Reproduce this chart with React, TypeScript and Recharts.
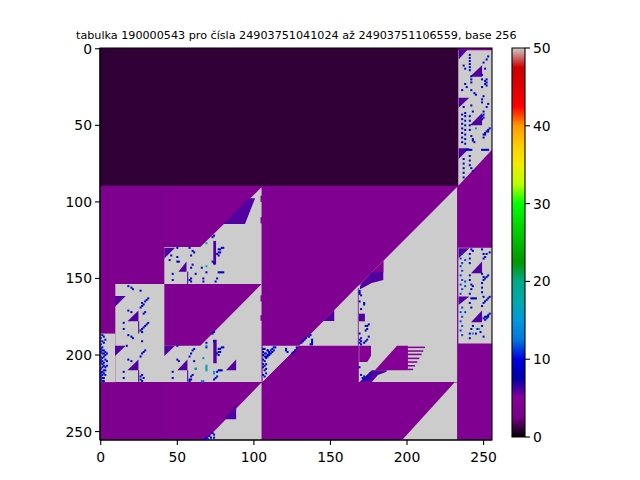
import { ComposedChart, BarChart, Area, Bar, Scatter, XAxis, YAxis, ReferenceArea } from 'recharts';

const FONT = '"DejaVu Sans", sans-serif';
const TITLE = 'tabulka 190000543 pro čísla 24903751041024 až 24903751106559, base 256';

const axisTicks = [0, 50, 100, 150, 200, 250];
const barTicks = [0, 10, 20, 30, 40, 50];

// nipy_spectral, one colour every 2.5 units from 0 to 50
const spectral = [
  '#000000', '#770088', '#880099', '#0000aa', '#0000dd', '#0077dd', '#0099dd',
  '#00aaaa', '#00aa88', '#009900', '#00bb00', '#00dd00', '#00ff00', '#bbff00',
  '#eeee00', '#ffcc00', '#ff9900', '#ff0000', '#dd0000', '#cc0000', '#cccccc',
];

function colorOf(v: number) {
  const p = Math.max(0, Math.min(19.999, v / 2.5));
  const i = Math.floor(p);
  const mix = (a: string, b: string, n: number) => {
    const c1 = parseInt(a.slice(n, n + 2), 16);
    const c2 = parseInt(b.slice(n, n + 2), 16);
    return Math.round(c1 + (c2 - c1) * (p - i));
  };
  return `rgb(${mix(spectral[i], spectral[i + 1], 1)},${mix(spectral[i], spectral[i + 1], 3)},${mix(spectral[i], spectral[i + 1], 5)})`;
}

// Filled areas of the table: each row is [column, top row, bottom row]
type Span = [number, number, number];

const PURPLE_L = 3.6;
const PURPLE = 3.8;
const DARK = 1;
const GRAY = 50;
const VIOLET = 6;
const HATCH = 4.4;

const wholeTable: Span[] = [[-0.5, -0.5, 255.5], [255.5, -0.5, 255.5]];
const leftColumns: Span[] = [[-0.5, 89.5, 255.5], [41.5, 89.5, 255.5]];
const darkBlock: Span[] = [[-0.5, -0.5, 89.5], [233.3, -0.5, 89.5]];

const grayTopRight: Span[] = [[233.5, 1, 89.5], [255.5, 1, 66]];
const grayMidRight: Span[] = [[233.5, 130, 192.5], [255.5, 130, 192.5]];
const grayUpper: Span[] = [[41.5, 129.5, 153.7], [65, 129.5, 153.7], [105, 90.5, 153.7]];
const grayLowerLeftEdge: Span[] = [[-0.5, 186, 217.7], [9.5, 186, 217.7]];
const grayLowerLeft: Span[] = [[9.5, 153.7, 217.7], [105, 153.7, 217.7]];
const grayBottomLeft: Span[] = [[68.5, 255.5, 255.5], [105, 218, 255.5]];
const grayWedge: Span[] = [[105.7, 194, 217.7], [129.5, 194, 194]];
const grayMain: Span[] = [[129.5, 194, 217.7], [168, 155, 217.7], [232.7, 90.3, 217.7]];
const grayBottomRight: Span[] = [[196.8, 255.5, 255.5], [231, 218, 255.5], [232.7, 218, 255.5]];

const purpleInLeft: Span[] = [[41.5, 153.7, 194], [65, 153.7, 194], [105, 153.7, 153.7]];
const purpleInMiddle: Span[] = [[105.7, 217.7, 217.7], [129.5, 194, 217.7], [168.3, 194, 217.7]];
const purpleWedge: Span[] = [[168, 155, 155], [184.7, 138.3, 146]];
const purpleTick1: Span[] = [[104.3, 96, 100], [105.5, 96, 100]];
const purpleTick2: Span[] = [[104.3, 110, 114], [105.5, 110, 114]];
const purpleTick3: Span[] = [[104.3, 161, 165], [105.5, 161, 165]];
const purpleTick4: Span[] = [[104.3, 174, 177.6], [105.5, 174, 177.6]];
const paleDivider: Span[] = [[167.9, 156, 217.7], [168.4, 156, 217.7]];

const hatchSquare: Span[] = [[168.8, 194, 204.5], [174, 194, 204.5], [176.5, 194, 200.5]];
const hatchBig: Span[] = [[179, 210, 210], [193.5, 194, 210], [200.6, 194, 210]];

const violetAreas: Span[][] = [
  [[80, 114.5, 114.5], [94.2, 100, 114.5], [96.5, 97.7, 108.6], [100.8, 97.7, 97.7]],
  [[41.5, 130, 137], [48.5, 130, 130]],
  [[50.7, 145.6, 145.6], [56, 139, 145.6]],
  [[73.5, 125.5, 141], [75.3, 125.5, 141]],
  [[9.3, 161.4, 168.4], [16.3, 161.4, 161.4]],
  [[17.4, 178, 178], [24.6, 171, 178]],
  [[9.3, 193.9, 200.6], [16.3, 193.9, 193.9]],
  [[17.4, 210, 210], [24.6, 203, 210]],
  [[41.5, 194, 200.6], [48.5, 194, 194]],
  [[50, 210, 210], [56.6, 203, 210]],
  [[81.8, 210, 210], [88.4, 203, 210]],
  [[73.5, 190, 205.4], [75.7, 190, 205.4]],
  [[80.7, 242, 242], [88.4, 232, 242]],
  [[145.3, 177.8, 177.8], [152.5, 170.6, 177.8]],
  [[168.5, 173, 178], [172.5, 173, 178]],
  [[169.3, 155, 157], [177, 145.8, 153], [184.5, 145.8, 151]],
  [[169, 217.7, 217.7], [177, 210, 217.7], [181, 210, 213], [186.7, 210, 211]],
  [[233.7, 0.5, 7], [239.6, 0.5, 0.5]],
  [[241, 18.2, 18.2], [249, 10.8, 18.2]],
  [[233.7, 32, 38.5], [240.7, 32, 32]],
  [[241, 50, 50], [249, 42, 50]],
  [[233.7, 65, 72], [240.7, 65, 65]],
  [[233.7, 130.3, 136.8], [240.7, 130.3, 130.3]],
  [[241.8, 146.6, 146.6], [249, 139, 146.6]],
  [[233.7, 161.8, 167.3], [240.7, 161.8, 161.8]],
  [[241.8, 178.6, 178.6], [249, 171, 178.6]],
  // thin upright lines beside the small triangles
  [[24.4, 178, 186], [25.1, 178, 186]],
  [[24.4, 210, 217.4], [25.1, 210, 217.4]],
  [[56.4, 145.6, 153.6], [57.1, 145.6, 153.6]],
  [[56.4, 210, 217.4], [57.1, 210, 217.4]],
];

// striped end of the hatched area: row and last column of each stripe
const stripeRows = [195, 197.4, 199.6, 202.2, 204.6, 207, 209.4];
const stripeEnds = [211.7, 210.6, 209.5, 208, 206.7, 205.2, 204];

// Single cells: [column, row]
type Cell = [number, number];

const blueUpperBlock: Cell[] = [
  [50, 130], [58, 130], [60, 132], [61, 133], [59, 135], [46, 135], [50, 136], [45, 138], [51, 139], [50, 139],
  [60, 141], [59, 143], [66, 143], [69, 146], [62, 147], [47, 147], [47, 151], [59, 150], [58, 151], [59, 152],
  [67, 150], [67, 152], [76, 150], [75, 152], [77, 146], [78, 146], [79, 146], [80, 146], [73, 123], [74, 122],
  [77, 131], [78, 131], [79, 130], [80, 130], [77, 133], [78, 133], [77, 135], [76, 134], [73, 139], [74, 140],
];
const blueLowerLeft: Cell[] = [
  [18, 155], [20, 156], [21, 157], [26, 158], [31, 163], [30, 164], [29, 165], [27, 166], [28, 167], [26, 169], [27, 168],
  [18, 171], [20, 172], [15, 179], [15, 183], [28, 173], [29, 172], [31, 179], [30, 180], [29, 181], [28, 182], [27, 183],
  [26, 184], [27, 185], [18, 187], [20, 188], [21, 189], [27, 191], [17, 194], [29, 197], [28, 198], [27, 199], [26, 201],
  [18, 203], [20, 204], [15, 211], [15, 215], [27, 213], [28, 215], [26, 216], [27, 217], [26, 214],
  [1, 187], [2, 188], [3, 190], [1, 191], [0, 193], [1, 195], [0, 196], [2, 197], [3, 198], [0, 198], [1, 199], [4, 199],
  [0, 201], [2, 201], [1, 202], [3, 203], [4, 204], [2, 205], [1, 206], [4, 207], [3, 208], [0, 209], [2, 210], [1, 211],
  [0, 212], [1, 213], [3, 213], [0, 214], [2, 215], [0, 216], [1, 217],
  [0, 189], [2, 192], [1, 197], [2, 199], [0, 203], [1, 204], [3, 200], [0, 205], [2, 207], [1, 208], [3, 210], [2, 212], [1, 215], [0, 211], [2, 217],
];
const blueLowerMid: Cell[] = [
  [50, 194], [60, 197], [61, 196], [59, 199], [58, 201], [50, 203], [51, 204], [62, 209], [61, 204], [69, 192], [69, 195],
  [74, 191], [73, 186], [74, 185], [77, 210], [78, 210], [79, 210], [76, 211], [75, 215], [76, 214], [74, 216], [47, 211], [47, 215],
  [59, 214], [60, 213], [58, 216], [59, 216], [58, 217], [77, 196], [78, 196], [79, 195], [80, 195], [77, 198], [78, 198], [77, 200], [76, 199],
];
const blueWedge: Cell[] = [
  [107, 196], [109, 197], [108, 199], [114, 195], [113, 197], [112, 198], [111, 199], [110, 200], [109, 201], [108, 202], [106, 203],
  [108, 206], [106, 208], [108, 209], [106, 213], [108, 212], [109, 197], [107, 199], [110, 198], [121, 196], [122, 198], [128, 195], [127, 197], [125, 199],
  [106, 196], [106, 198], [107, 201], [107, 204], [106, 206], [107, 210], [107, 214],
  [113, 195], [112, 196], [111, 197], [110, 199], [109, 200], [108, 201], [126, 198], [121, 197], [106, 200], [107, 207],
];
const blueMiddle: Cell[] = [
  [137, 187], [136, 188], [134, 189], [133, 190], [132, 191], [131, 192], [138, 190], [138, 191], [138, 192], [138, 193], [137, 193],
  [169, 158], [169, 159], [169, 160], [170, 161], [169, 165], [172, 166], [172, 167], [170, 170], [175, 180], [174, 181], [173, 181], [174, 183], [173, 184],
  [169, 186], [170, 189], [175, 188], [174, 190], [173, 191], [172, 192], [169, 190], [170, 191], [169, 192], [170, 193],
  [169, 208], [170, 213], [171, 215], [172, 216], [174, 214], [176, 212], [173, 216], [175, 215], [172, 214],
  [73, 251], [74, 252], [71, 253], [72, 254], [74, 254], [68, 255], [69, 254], [70, 255],
];
const blueTopRight: Cell[] = [
  [241, 4], [241, 6], [241, 8], [241, 10], [241, 12], [241, 14], [242, 18], [242, 20], [242, 22], [237, 11], [238, 13], [238, 23], [239, 25], [236, 27],
  [242, 27], [244, 29], [245, 30], [253, 5], [252, 7], [250, 9], [251, 13], [249, 17], [249, 20], [252, 20], [251, 21], [252, 22], [251, 23], [252, 24], [249, 25],
  [250, 31], [249, 33], [249, 35], [253, 36], [252, 38], [250, 41], [242, 37], [243, 41], [237, 38], [238, 42],
  [236, 43], [236, 46], [236, 49], [236, 52], [236, 55], [236, 58], [236, 61], [238, 44], [238, 47], [238, 50], [238, 53], [238, 56], [238, 59], [238, 62],
  [241, 44], [241, 47], [241, 50], [241, 53], [242, 57], [243, 59], [243, 60], [244, 61], [250, 43], [249, 44], [250, 45], [249, 46],
  [254, 52], [253, 53], [252, 54], [251, 55], [250, 56], [253, 54], [251, 56], [250, 58], [249, 66], [250, 66], [251, 66], [252, 66], [253, 66],
  [238, 66], [239, 66], [240, 66], [241, 66], [242, 66], [237, 72], [237, 75], [237, 78], [237, 81], [237, 84], [241, 70], [241, 73], [241, 76], [242, 78], [243, 80],
];
const blueMidRight: Cell[] = [
  [242, 131], [243, 132], [241, 134], [241, 137], [241, 140], [249, 131], [250, 134], [250, 137], [252, 134], [251, 136], [254, 133],
  [249, 147], [250, 149], [252, 149], [251, 150], [253, 148], [250, 151], [249, 153], [249, 156], [249, 159], [250, 162],
  [241, 148], [241, 151], [242, 154], [243, 155], [242, 157], [241, 160], [242, 163], [243, 163], [244, 163], [245, 163],
  [254, 162], [253, 163], [252, 164], [251, 165], [250, 166], [249, 168], [241, 166], [242, 169],
  [254, 173], [253, 174], [252, 175], [251, 175], [250, 176], [253, 175], [252, 176], [251, 177], [243, 181], [242, 183], [241, 186], [241, 189],
  [249, 181], [250, 188], [248, 185], [246, 183], [245, 186],
];
const lightBlueDots: Cell[] = [
  [236, 134], [235, 137], [236, 140], [235, 142], [236, 145], [235, 148], [236, 151], [235, 154], [236, 157], [235, 160],
  [236, 169], [235, 172], [236, 175], [235, 178], [236, 181], [235, 184], [236, 187], [238, 138], [238, 152], [238, 155], [238, 172],
];
const tealCells: Cell[] = [
  [69, 142], [69, 127], [62, 209], [69, 207], [69, 208], [69, 209], [69, 210], [245, 52], [247, 183],
];
const cyanBlueCells: Cell[] = [[67, 202], [74, 212], [74, 211], [67, 217], [66, 217], [69, 194], [243, 186]];

const BLUE = 8.8;
const LIGHT_BLUE = 11.5;
const TEAL = 16.5;
const CYAN_BLUE = 14;

const CELL = 2;

function CellMark(props: any) {
  return <rect x={props.cx - CELL / 2} y={props.cy - CELL / 2} width={CELL} height={CELL} fill={props.fill} />;
}

function region(spans: Span[], value: number, name: string) {
  return (
    <Area
      key={name}
      data={spans.map(([x, a, b]) => ({ x, r: [a, b] }))}
      dataKey="r"
      type="linear"
      stroke="none"
      fill={colorOf(value)}
      fillOpacity={1}
      dot={false}
      activeDot={false}
      isAnimationActive={false}
    />
  );
}

function cells(list: Cell[], value: number, name: string) {
  return (
    <Scatter
      key={name}
      data={list.map(([x, y]) => ({ x, y }))}
      dataKey="y"
      fill={colorOf(value)}
      shape={CellMark}
      isAnimationActive={false}
    />
  );
}

const tickStyle = { fill: '#000', fontSize: 13.9, fontFamily: FONT };
const axisLine = { stroke: '#000', strokeWidth: 1.1 };

function Heatmap() {
  const stripes: Span[][] = stripeRows.map((r, i) => [[200.5, r - 0.5, r + 0.5], [stripeEnds[i], r - 0.5, r + 0.5]]);
  return (
    <ComposedChart width={640} height={480} margin={{ top: 48, right: 148, bottom: 0, left: 60 }}>
      <XAxis
        type="number"
        dataKey="x"
        domain={[-0.5, 255.5]}
        ticks={axisTicks}
        height={40}
        tickSize={5}
        tickMargin={7}
        tick={tickStyle}
        tickLine={axisLine}
        axisLine={axisLine}
        allowDataOverflow
      />
      <YAxis
        type="number"
        dataKey="y"
        reversed
        domain={[-0.5, 255.5]}
        ticks={axisTicks}
        width={40}
        tickSize={5}
        tickMargin={3}
        tick={tickStyle}
        tickLine={axisLine}
        axisLine={axisLine}
        allowDataOverflow
      />
      {region(wholeTable, PURPLE, 'whole')}
      {region(leftColumns, PURPLE_L, 'left')}
      {region(darkBlock, DARK, 'dark')}
      {region(grayTopRight, GRAY, 'g1')}
      {region(grayMidRight, GRAY, 'g2')}
      {region(grayUpper, GRAY, 'g3')}
      {region(grayLowerLeftEdge, GRAY, 'g4')}
      {region(grayLowerLeft, GRAY, 'g5')}
      {region(grayBottomLeft, GRAY, 'g6')}
      {region(grayWedge, GRAY, 'g7')}
      {region(grayMain, GRAY, 'g8')}
      {region(grayBottomRight, GRAY, 'g9')}
      {region(purpleInLeft, PURPLE, 'p1')}
      {region(purpleInMiddle, PURPLE, 'p2')}
      {region(purpleWedge, PURPLE, 'p3')}
      {region(purpleTick1, PURPLE, 'p4')}
      {region(purpleTick2, PURPLE, 'p5')}
      {region(purpleTick3, PURPLE, 'p6')}
      {region(purpleTick4, PURPLE, 'p7')}
      {region(paleDivider, HATCH, 'p8')}
      {region(hatchSquare, HATCH, 'h1')}
      {region(hatchBig, HATCH, 'h2')}
      {stripes.map((s, i) => region(s, HATCH, `s${i}`))}
      {violetAreas.map((s, i) => region(s, VIOLET, `v${i}`))}
      {cells(blueUpperBlock, BLUE, 'b1')}
      {cells(blueLowerLeft, BLUE, 'b2')}
      {cells(blueLowerMid, BLUE, 'b3')}
      {cells(blueWedge, BLUE, 'b4')}
      {cells(blueMiddle, BLUE, 'b5')}
      {cells(blueTopRight, BLUE, 'b6')}
      {cells(blueMidRight, BLUE, 'b7')}
      {cells(lightBlueDots, LIGHT_BLUE, 'b8')}
      {cells(tealCells, TEAL, 'b9')}
      {cells(cyanBlueCells, CYAN_BLUE, 'b10')}
      <ReferenceArea x1={-0.5} x2={255.5} y1={-0.5} y2={255.5} fill="none" stroke="#000" strokeWidth={1.1} ifOverflow="visible" />
    </ComposedChart>
  );
}

function ColorBar() {
  return (
    <BarChart width={140} height={480} data={[{ name: 'bar', v: 50 }]} barCategoryGap={0} margin={{ top: 48, right: 75, bottom: 43, left: 12 }}>
      <defs>
        <linearGradient id="spectralFill" x1="0" y1="1" x2="0" y2="0">
          {spectral.map((c, i) => (
            <stop key={i} offset={i / (spectral.length - 1)} stopColor={c} />
          ))}
        </linearGradient>
      </defs>
      <XAxis dataKey="name" hide />
      <YAxis
        orientation="right"
        domain={[0, 50]}
        ticks={barTicks}
        width={40}
        tickSize={5}
        tickMargin={3}
        tick={tickStyle}
        tickLine={axisLine}
        axisLine={false}
      />
      <Bar dataKey="v" fill="url(#spectralFill)" stroke="#000" strokeWidth={1.1} isAnimationActive={false} />
    </BarChart>
  );
}

export default function App() {
  return (
    <div style={{ position: 'absolute', left: 0, top: 0, width: 640, height: 480, background: '#fff', fontFamily: FONT }}>
      <div style={{ position: 'absolute', left: 0, top: 0 }}>
        <Heatmap />
      </div>
      <div style={{ position: 'absolute', left: 500, top: 0 }}>
        <ColorBar />
      </div>
      <div style={{ position: 'absolute', left: 76, top: 30, fontSize: 11.18, lineHeight: '12px', color: '#000', whiteSpace: 'nowrap' }}>
        {TITLE}
      </div>
    </div>
  );
}
